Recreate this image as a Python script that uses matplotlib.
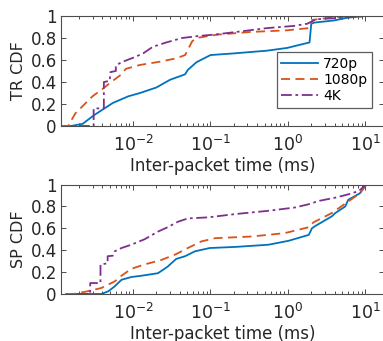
import matplotlib
matplotlib.use("Agg")
import matplotlib.pyplot as plt
from matplotlib.ticker import FixedLocator, FixedFormatter, LogLocator, NullFormatter

# ---------------- data (x in ms, y = CDF) ----------------
tr_720_x = [0.00117, 0.00158, 0.00224, 0.00316, 0.0055, 0.0087, 0.0123, 0.020, 0.030, 0.047, 0.051,
            0.066, 0.10, 0.20, 0.54, 0.98, 1.90, 2.00, 2.19, 3.98, 5.9, 9.8, 17]
tr_720_y = [0, 0, 0.02, 0.10, 0.21, 0.27, 0.30, 0.35, 0.42, 0.47, 0.51,
            0.58, 0.645, 0.66, 0.685, 0.71, 0.76, 0.93, 0.94, 0.96, 0.985, 1.0, 1.0]

tr_1080_x = [0.00117, 0.00145, 0.0018, 0.0030, 0.0041, 0.0050, 0.0068, 0.0081, 0.0123, 0.0224, 0.036,
             0.047, 0.058, 0.066, 0.12, 0.33, 0.98, 1.86, 2.09, 3.98, 10, 17]
tr_1080_y = [0, 0, 0.115, 0.27, 0.34, 0.39, 0.46, 0.52, 0.555, 0.585, 0.615,
             0.645, 0.77, 0.80, 0.83, 0.855, 0.87, 0.89, 0.965, 0.99, 1.0, 1.0]

tr_4k_x = [0.0020, 0.0031, 0.0031, 0.0042, 0.0042, 0.0050, 0.0051, 0.0060, 0.0060, 0.0071, 0.010,
           0.0135, 0.018, 0.027, 0.043, 0.074, 0.11, 0.245, 0.54, 1.2, 1.78, 2.3, 6.5, 10.7, 17]
tr_4k_y = [0, 0, 0.16, 0.16, 0.40, 0.41, 0.49, 0.50, 0.55, 0.58, 0.62,
           0.66, 0.72, 0.76, 0.80, 0.82, 0.83, 0.86, 0.89, 0.91, 0.93, 0.97, 0.99, 1.0, 1.0]

sp_720_x = [0.00137, 0.0039, 0.0048, 0.0058, 0.0071, 0.0095, 0.0129, 0.021, 0.028, 0.036, 0.047,
            0.063, 0.098, 0.21, 0.56, 1.02, 1.86, 2.04, 2.24, 3.7, 4.1, 5.5, 6.0, 8.5, 10, 10.5, 17]
sp_720_y = [0, 0, 0.025, 0.07, 0.13, 0.155, 0.167, 0.19, 0.25, 0.32, 0.345,
            0.39, 0.42, 0.43, 0.45, 0.486, 0.54, 0.60, 0.62, 0.71, 0.74, 0.80, 0.86, 0.92, 0.99, 1.0, 1.0]

sp_1080_x = [0.0014, 0.0017, 0.0026, 0.0039, 0.0058, 0.0071, 0.0095, 0.0141, 0.023, 0.035, 0.051,
             0.076, 0.115, 0.34, 0.91, 1.86, 2.14, 3.7, 6.0, 8.5, 10, 10.5, 17]
sp_1080_y = [0, 0, 0.025, 0.055, 0.115, 0.167, 0.23, 0.27, 0.31, 0.36, 0.42,
             0.48, 0.51, 0.525, 0.556, 0.61, 0.655, 0.74, 0.845, 0.92, 0.99, 1.0, 1.0]

sp_4k_x = [0.0019, 0.0028, 0.0028, 0.0038, 0.0038, 0.0047, 0.0047, 0.0055, 0.0058, 0.0071, 0.0095,
           0.0141, 0.021, 0.028, 0.038, 0.051, 0.093, 0.21, 0.56, 1.23, 1.86, 2.5, 4.1, 6.0, 8.2, 9.5, 10.5, 17]
sp_4k_y = [0, 0, 0.10, 0.10, 0.27, 0.28, 0.345, 0.35, 0.39, 0.42, 0.45,
           0.50, 0.57, 0.61, 0.66, 0.69, 0.70, 0.73, 0.76, 0.79, 0.82, 0.85, 0.88, 0.91, 0.94, 0.98, 1.0, 1.0]

series_labels = ["720p", "1080p", "4K"]
y_ticks = [0, 0.2, 0.4, 0.6, 0.8, 1.0]
y_tick_labels = ["0", "0.2", "0.4", "0.6", "0.8", "1"]
x_ticks = [1e-2, 1e-1, 1e0, 1e1]
x_tick_labels = [r"$10^{-2}$", r"$10^{-1}$", r"$10^{0}$", r"$10^{1}$"]
xlabel = "Inter-packet time (ms)"
ylabels = ["TR CDF", "SP CDF"]

colors = ["#0072BD", "#D95319", "#7E2F8E"]
styles = ["-", (0, (5, 3)), (0, (6, 2, 1.5, 2))]

plt.rcParams['font.family'] = ['DejaVu Sans']
plt.rcParams['mathtext.fontset'] = 'dejavusans'

fig = plt.figure(figsize=(3.83, 3.41), dpi=100)
W, H = 383, 341
ax1 = fig.add_axes([61 / W, 1 - 126 / H, 323 / W, 110 / H])
ax2 = fig.add_axes([61 / W, 1 - 294 / H, 323 / W, 109.5 / H])

panels = [
    (ax1, [(tr_720_x, tr_720_y), (tr_1080_x, tr_1080_y), (tr_4k_x, tr_4k_y)]),
    (ax2, [(sp_720_x, sp_720_y), (sp_1080_x, sp_1080_y), (sp_4k_x, sp_4k_y)]),
]

spine_col = "#4d4d4d"
for i, (ax, data) in enumerate(panels):
    for (x, y), c, ls, lab in zip(data, colors, styles, series_labels):
        ax.plot(x, y, color=c, linestyle=ls, linewidth=1.3, label=lab)
    ax.set_xscale('log')
    ax.set_xlim(10 ** -2.93, 10 ** 1.24)
    ax.set_ylim(0, 1)
    ax.xaxis.set_major_locator(FixedLocator(x_ticks))
    ax.xaxis.set_major_formatter(FixedFormatter(x_tick_labels))
    ax.xaxis.set_minor_locator(LogLocator(base=10, subs=range(2, 10), numticks=20))
    ax.xaxis.set_minor_formatter(NullFormatter())
    ax.yaxis.set_major_locator(FixedLocator(y_ticks))
    ax.yaxis.set_major_formatter(FixedFormatter(y_tick_labels))
    ax.tick_params(which='both', direction='in', top=True, right=True, colors=spine_col,
                   labelcolor="#262626", width=0.7)
    ax.tick_params(which='major', length=3.5)
    ax.tick_params(which='minor', length=2)
    ax.tick_params(axis='y', labelsize=12, pad=3)
    ax.tick_params(axis='x', labelsize=12.5, pad=6.5)
    for s in ax.spines.values():
        s.set_color(spine_col)
        s.set_linewidth(0.8)
    ax.set_xlabel(xlabel, fontsize=12, color="#262626", labelpad=1)
    ax.set_ylabel(ylabels[i], fontsize=11.5, color="#262626", labelpad=3)

leg = ax1.legend(loc='upper right', bbox_to_anchor=(0.963, 0.673), borderaxespad=0,
                 fontsize=10, handlelength=2.6, frameon=True, fancybox=False,
                 borderpad=0.35, labelspacing=0.15, handletextpad=0.4)
leg.get_frame().set_edgecolor("#333333")
leg.get_frame().set_linewidth(0.9)

fig.savefig("out.png", dpi=100)
